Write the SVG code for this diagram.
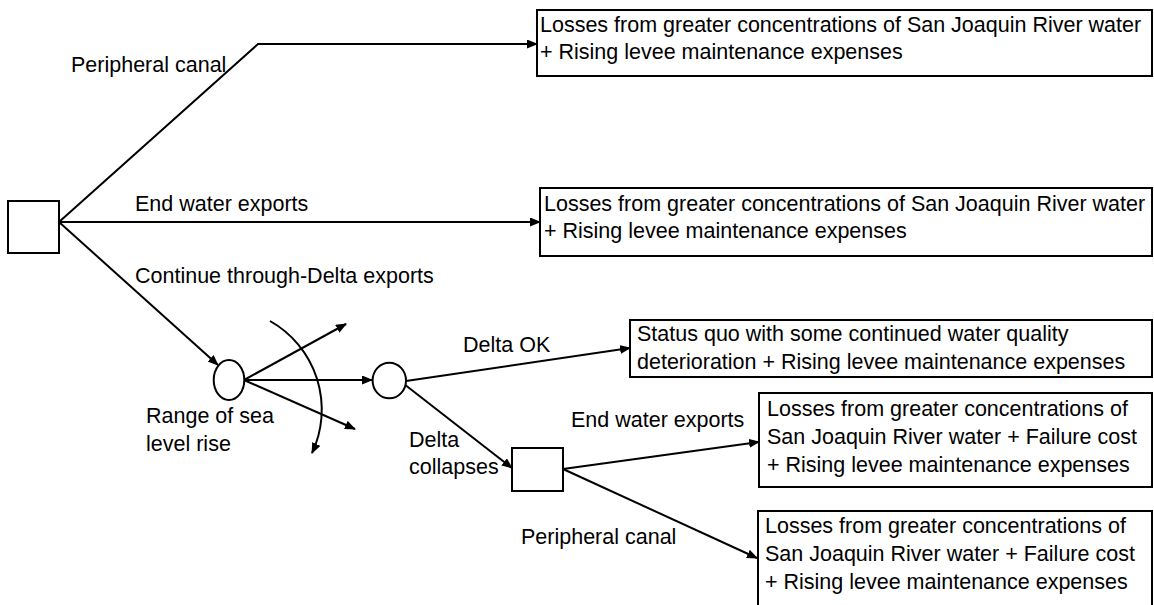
<svg xmlns="http://www.w3.org/2000/svg" width="1154" height="605" viewBox="0 0 1154 605">
<style>
  .box { fill: #fff; stroke: #000; stroke-width: 2; }
  .conn { fill: none; stroke: #000; stroke-width: 2; marker-end: url(#arrow); }
  .line { fill: none; stroke: #000; stroke-width: 2; }
  text { font-family: "Liberation Sans", Arial, sans-serif; font-size: 21.5px; fill: #000; }
</style>
<defs>
  <marker id="arrow" markerUnits="userSpaceOnUse" markerWidth="11" markerHeight="9" refX="10" refY="4.5" orient="auto">
    <path d="M0,0 L11,4.5 L0,9 z" fill="#000"/>
  </marker>
</defs>
<rect width="1154" height="605" fill="#fff"/>

<g id="connectors">
  <polyline class="conn" points="59,222 258,44 537,44"/>
  <line class="conn" x1="59" y1="222" x2="540" y2="222"/>
  <line class="conn" x1="59" y1="222" x2="218" y2="365"/>
  <line class="conn" x1="244" y1="380" x2="346" y2="324"/>
  <line class="conn" x1="244" y1="380" x2="372" y2="380"/>
  <line class="conn" x1="244" y1="380" x2="355" y2="429"/>
  <path class="conn" d="M270,321 A101.6,101.6 0 0 1 312,453"/>
  <line class="conn" x1="406" y1="381" x2="630" y2="348"/>
  <line class="conn" x1="404" y1="384" x2="512" y2="468"/>
  <line class="conn" x1="563" y1="469" x2="759" y2="442"/>
  <line class="conn" x1="563" y1="469" x2="757" y2="558"/>
</g>

<g id="labels">
  <text x="71" y="72">Peripheral canal</text>
  <text x="135" y="211">End water exports</text>
  <text x="135" y="283">Continue through-Delta exports</text>
  <text x="146" y="423">Range of sea</text>
  <text x="146" y="451">level rise</text>
  <text x="463" y="352">Delta OK</text>
  <text x="409" y="447">Delta</text>
  <text x="409" y="474">collapses</text>
  <text x="571" y="427">End water exports</text>
  <text x="521" y="544">Peripheral canal</text>
</g>

<g id="decision-root">
  <rect class="box" x="8" y="201" width="51" height="52"/>
</g>

<g id="chance-sea-level">
  <ellipse class="box" cx="229" cy="380" rx="15.3" ry="20"/>
</g>

<g id="chance-delta">
  <ellipse class="box" cx="389.3" cy="380.5" rx="16.7" ry="17.8"/>
</g>

<g id="decision-collapse">
  <rect class="box" x="512" y="448" width="51" height="43"/>
</g>

<g id="outcome-1">
  <rect class="box" x="537" y="10" width="615" height="66"/>
  <text x="540" y="32">Losses from greater concentrations of San Joaquin River water</text>
  <text x="540" y="59">+ Rising levee maintenance expenses</text>
</g>

<g id="outcome-2">
  <rect class="box" x="540" y="188" width="612" height="68"/>
  <text x="544" y="211">Losses from greater concentrations of San Joaquin River water</text>
  <text x="544" y="238">+ Rising levee maintenance expenses</text>
</g>

<g id="outcome-3">
  <rect class="box" x="630" y="320" width="522" height="57"/>
  <text x="637" y="341">Status quo with some continued water quality</text>
  <text x="637" y="369">deterioration + Rising levee maintenance expenses</text>
</g>

<g id="outcome-4">
  <rect class="box" x="759" y="393" width="393" height="94"/>
  <text x="767" y="416">Losses from greater concentrations of</text>
  <text x="767" y="444">San Joaquin River water + Failure cost</text>
  <text x="767" y="472">+ Rising levee maintenance expenses</text>
</g>

<g id="outcome-5">
  <rect class="box" x="758" y="511" width="394" height="97"/>
  <text x="765" y="533">Losses from greater concentrations of</text>
  <text x="765" y="561">San Joaquin River water + Failure cost</text>
  <text x="765" y="589">+ Rising levee maintenance expenses</text>
</g>
</svg>
